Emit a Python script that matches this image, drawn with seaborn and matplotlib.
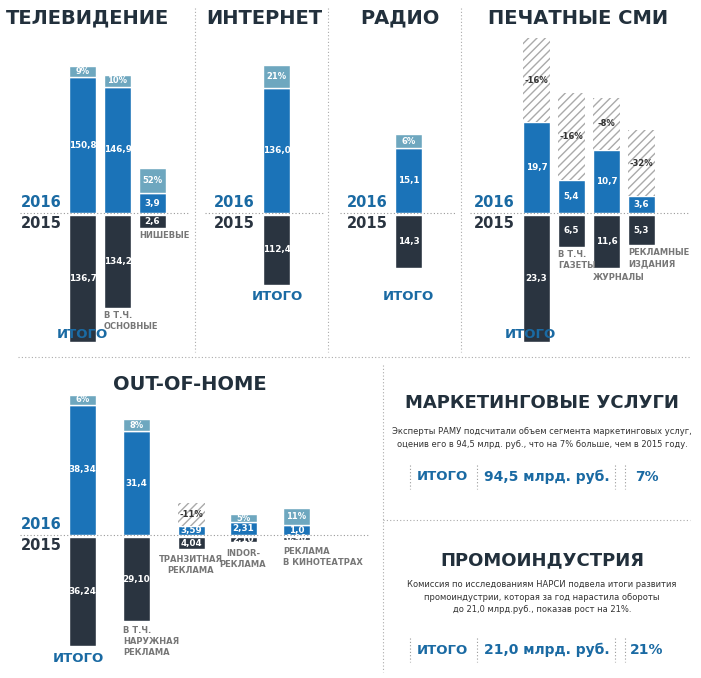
import matplotlib
matplotlib.use('Agg')
import matplotlib.pyplot as plt
import seaborn as sns

sns.set_theme(style='white')
plt.rcParams['font.family'] = 'DejaVu Sans'

W, H = 701, 678
BLUE = '#1b73b8'
CAP = '#6ea7bf'
DARK = '#2a3440'
LBL = '#1a6aa3'
GREY = '#777777'

# ---- data ----
tv_names = ['ИТОГО', 'В Т.Ч.\nОСНОВНЫЕ', 'НИШЕВЫЕ']
tv_2016 = [150.8, 146.9, 3.9]
tv_2015 = [136.7, 134.2, 2.6]
tv_pct = ['9%', '10%', '52%']

net_2016 = [136.0]
net_2015 = [112.4]
net_pct = ['21%']

radio_2016 = [15.1]
radio_2015 = [14.3]
radio_pct = ['6%']

print_names = ['ИТОГО', 'В Т.Ч.\nГАЗЕТЫ', 'ЖУРНАЛЫ', 'РЕКЛАМНЫЕ\nИЗДАНИЯ']
print_2016 = [19.7, 5.4, 10.7, 3.6]
print_2015 = [23.3, 6.5, 11.6, 5.3]
print_pct = ['-16%', '-16%', '-8%', '-32%']

ooh_names = ['ИТОГО', 'В Т.Ч.\nНАРУЖНАЯ\nРЕКЛАМА', 'ТРАНЗИТНАЯ\nРЕКЛАМА', 'INDOR-\nРЕКЛАМА', 'РЕКЛАМА\nВ КИНОТЕАТРАХ']
ooh_2016 = [38.34, 31.4, 3.59, 2.31, 1.0]
ooh_2015 = [36.24, 29.10, 4.04, 2.10, 0.90]
ooh_pct = ['6%', '8%', '-11%', '5%', '11%']
ooh_dec16 = [2, 1, 2, 2, 1]
ooh_dec15 = [2, 2, 2, 2, 2]

fmt = lambda v, d: f'{v:.{d}f}'.replace('.', ',')

fig = plt.figure(figsize=(W / 100, H / 100), dpi=100)
bg = fig.add_axes([0, 0, 1, 1])
bg.set_xlim(0, W)
bg.set_ylim(H, 0)
bg.axis('off')
bg.set_zorder(10)
bg.patch.set_alpha(0)


def bar(x0, base, s16, s15, cap_px, v16, v15, pct, d16=1, d15=1):
    """one stacked column in its own small axes (s16/s15 = px per unit, the infographic is not to scale)"""
    w = 27
    top = base - v16 * s16 - cap_px
    mid = base + 2
    bot = mid + v15 * s15
    # upper part (2016)
    ax = fig.add_axes([x0 / W, 1 - base / H, w / W, (base - top) / H])
    ax.set_xlim(-0.5, 0.5)
    ax.set_ylim(0, v16 + cap_px / s16)
    ax.axis('off')
    neg = pct.startswith('-')
    ax.bar(0, v16, width=1, color=BLUE)
    if neg:
        ax.bar(0, cap_px / s16, bottom=v16, width=1, color='white',
               edgecolor='#aaaaaa', hatch='////', linewidth=0)
    else:
        ax.bar(0, cap_px / s16, bottom=v16, width=1, color=CAP)
    ax.text(0, v16 + cap_px / s16 / 2, pct, ha='center', va='center', fontsize=6,
            fontweight='bold', color='#333333' if neg else 'white')
    ax.text(0, v16 / 2, fmt(v16, d16), ha='center', va='center', fontsize=6.3,
            fontweight='bold', color='white')
    # lower part (2015)
    ax2 = fig.add_axes([x0 / W, 1 - bot / H, w / W, (bot - mid) / H])
    ax2.set_xlim(-0.5, 0.5)
    ax2.set_ylim(-v15, 0)
    ax2.axis('off')
    ax2.bar(0, -v15, width=1, color=DARK)
    ax2.text(0, -v15 / 2, fmt(v15, d15), ha='center', va='center', fontsize=6.3,
             fontweight='bold', color='white')


def baseline(x0, x1, y, lx):
    bg.plot([x0, x1], [y, y], ls=(0, (1, 2)), color='#999999', lw=0.8)
    bg.text(lx, y - 3, '2016', ha='right', va='bottom', fontsize=10.5, fontweight='bold', color=LBL)
    bg.text(lx, y + 3, '2015', ha='right', va='top', fontsize=10.5, fontweight='bold', color=DARK)


def title(x, y, s, size=14):
    bg.text(x, y, s, ha='center', va='center', fontsize=size, fontweight='bold', color='#22303c')


def sub(x, y, s, ha='left'):
    bg.text(x, y, s, ha=ha, va='top', fontsize=6, fontweight='bold', color=GREY, linespacing=1.3)


def itogo(x, y):
    bg.text(x, y, 'ИТОГО', ha='center', va='center', fontsize=9.5, fontweight='bold', color=LBL)


# TV
title(88, 18, 'ТЕЛЕВИДЕНИЕ')
baseline(20, 190, 213, 62)
for x0, a16, a15, cp, a, b, p in zip([69, 104, 139], [0.9, 0.86, 5.1], [0.93, 0.69, 5.0], [11, 12, 25],
                                     tv_2016, tv_2015, tv_pct):
    bar(x0, 213, a16, a15, cp, a, b, p)
itogo(82, 335)
sub(104, 311, tv_names[1])
sub(139, 231, tv_names[2])

# Internet
title(264, 18, 'ИНТЕРНЕТ')
baseline(205, 325, 213, 255)
bar(263, 213, 0.92, 0.62, 23, net_2016[0], net_2015[0], net_pct[0])
itogo(277, 296)

# Radio
title(400, 18, 'РАДИО')
baseline(340, 455, 213, 388)
bar(395, 213, 4.3, 3.7, 14, radio_2016[0], radio_2015[0], radio_pct[0])
itogo(408, 296)

# Print
title(578, 18, 'ПЕЧАТНЫЕ СМИ')
baseline(470, 690, 213, 515)
for x0, a16, a15, cp, a, b, p in zip([523, 558, 593, 628], [4.6, 6.1, 5.9, 4.7], [5.45, 4.9, 4.6, 5.7],
                                     [84, 87, 52, 66], print_2016, print_2015, print_pct):
    bar(x0, 213, a16, a15, cp, a, b, p)
itogo(530, 334)
sub(558, 250, print_names[1])
sub(593, 273, print_names[2])
sub(628, 248, print_names[3])

# Out-of-home
title(190, 385, 'OUT-OF-HOME')
baseline(20, 370, 535, 62)
for i, (x0, a16, a15, cp) in enumerate(zip([69, 123, 178, 230, 283], [3.4, 3.3, 2.5, 5.6, 10.0],
                                           [3.0, 2.9, 3.0, 2.4, 3.3], [10, 12, 23, 8, 17])):
    bar(x0, 535, a16, a15, cp, ooh_2016[i], ooh_2015[i], ooh_pct[i], ooh_dec16[i], ooh_dec15[i])
itogo(78, 658)
sub(123, 626, ooh_names[1])
sub(191, 555, ooh_names[2], ha='center')
sub(243, 549, ooh_names[3], ha='center')
sub(283, 547, ooh_names[4])

# right text blocks
title(542, 403, 'МАРКЕТИНГОВЫЕ УСЛУГИ', size=13)
bg.text(542, 438, 'Эксперты РАМУ подсчитали объем сегмента маркетинговых услуг,\n'
        'оценив его в 94,5 млрд. руб., что на 7% больше, чем в 2015 году.',
        ha='center', va='center', fontsize=6, color='#333333', linespacing=1.5)
title(542, 560, 'ПРОМОИНДУСТРИЯ', size=13)
bg.text(542, 597, 'Комиссия по исследованиям НАРСИ подвела итоги развития\n'
        'промоиндустрии, которая за год нарастила обороты\n'
        'до 21,0 млрд.руб., показав рост на 21%.',
        ha='center', va='center', fontsize=6, color='#333333', linespacing=1.5)
for y, val, pc in [(477, '94,5', '7%'), (650, '21,0', '21%')]:
    itogo(442, y)
    bg.text(547, y, f'{val} млрд. руб.', ha='center', va='center', fontsize=10, fontweight='bold', color=LBL)
    bg.text(647, y, pc, ha='center', va='center', fontsize=10, fontweight='bold', color=LBL)
    for xs in [410, 477, 615, 625]:
        bg.plot([xs, xs], [y - 12, y + 12], ls=(0, (1, 2)), color='#999999', lw=0.8)

# separators
dot = dict(ls=(0, (1, 2)), color='#aaaaaa', lw=0.8)
for xs in [195, 328, 461]:
    bg.plot([xs, xs], [8, 352], **dot)
bg.plot([18, 690], [357, 357], **dot)
bg.plot([383, 383], [365, 672], **dot)
bg.plot([383, 690], [520, 520], **dot)

fig.savefig('out.png', dpi=100)
